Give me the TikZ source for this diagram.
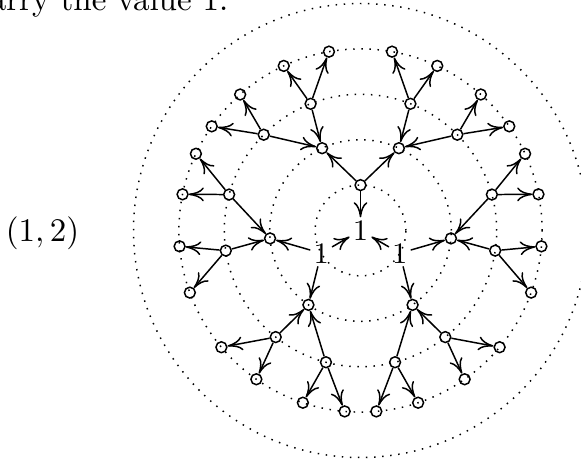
\documentclass[tikz,border=0pt]{standalone}
\usetikzlibrary{arrows.meta}
\begin{document}
\begin{tikzpicture}[x=0.30303pt,y=0.30303pt,
  vtx/.style={draw,circle,minimum size=3.3pt,inner sep=0pt,line width=0.45pt},
  lab/.style={inner sep=0.8pt,font=\small},
  arr/.style={-{To[length=4.6pt,width=4.2pt]},line width=0.45pt},
  ring/.style={dotted,line width=0.45pt}]
\useasboundingbox (0,0) rectangle (581,459);
\clip (0,0) rectangle (581,459);
\node[anchor=base east,inner sep=0pt] (txt) at (229,449) {carry the value 1.};
\node (pair) at (42.5,225.5) {$(1,2)$};
\begin{scope}[shift={(360.5,228.5)}]
  \foreach \r in {45.4,90.8,136.2,181.6,227} \draw[ring] (0,0) circle (\r);
  \node[lab] (r) at (0,0) {1};
  \node[vtx] (a) at (90:45.4) {};
  \node[lab] (b) at (210:45.4) {1};
  \node[lab] (c) at (330:45.4) {1};
  \foreach \t/\k in {90/a,210/b,330/c} {
    \draw[arr] (\k) -- (r);
    \foreach \s/\m in {1/p,-1/m} {
      \node[vtx] (\k\m) at ({\t+\s*25}:90.8) {};
      \draw[arr] (\k) -- (\k\m);
      \node[vtx] (\k\m1) at ({\t+\s*21.5}:136.2) {};
      \node[vtx] (\k\m2) at ({\t+\s*45.3}:136.2) {};
      \draw[arr] (\k\m1) -- (\k\m);
      \draw[arr] (\k\m2) -- (\k\m);
      \node[vtx] (\k\m1a) at ({\t+\s*10}:181.6) {};
      \node[vtx] (\k\m1b) at ({\t+\s*25}:181.6) {};
      \node[vtx] (\k\m2a) at ({\t+\s*41.5}:181.6) {};
      \node[vtx] (\k\m2b) at ({\t+\s*55}:181.6) {};
      \draw[arr] (\k\m1) -- (\k\m1a);
      \draw[arr] (\k\m1) -- (\k\m1b);
      \draw[arr] (\k\m2) -- (\k\m2a);
      \draw[arr] (\k\m2) -- (\k\m2b);
    }
  }
\end{scope}
\end{tikzpicture}
\end{document}
